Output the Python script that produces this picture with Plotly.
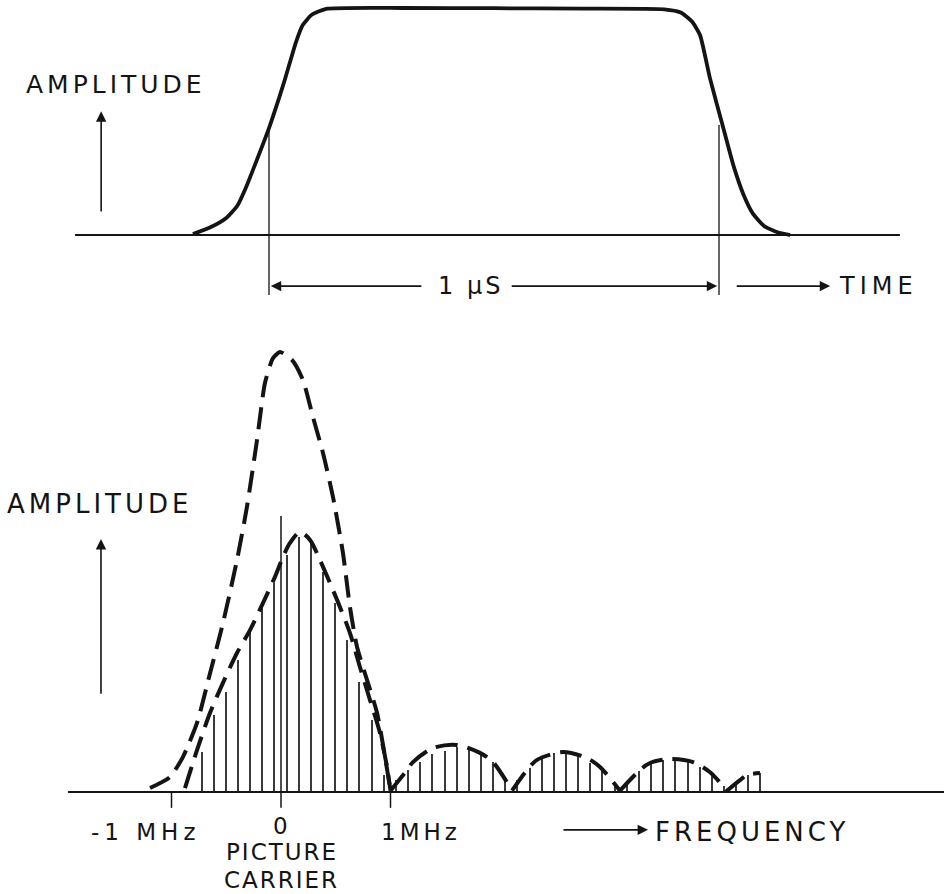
import json
import plotly.graph_objects as go

# ---------------- data: time-domain pulse (upper diagram) ----------------
pulse_t = [-0.169, -0.129, -0.095, -0.070, -0.050, -0.033, 0.000, 0.033, 0.060, 0.075,
           0.095, 0.127, 0.300, 0.500, 0.700, 0.878, 0.915, 0.940, 0.958, 0.980,
           1.009, 1.033, 1.055, 1.075, 1.100, 1.130, 1.158]
pulse_a = [0.004, 0.035, 0.075, 0.130, 0.215, 0.300, 0.471, 0.670, 0.850, 0.925,
           0.970, 0.996, 1.000, 0.999, 0.997, 0.994, 0.980, 0.940, 0.880, 0.690,
           0.476, 0.300, 0.175, 0.095, 0.040, 0.012, 0.000]
width_mark_t = [0.0, 1.0]          # half-amplitude points, 1 µs apart
width_mark_a = [0.471, 0.485]
time_axis = [-0.431, 1.402]

# ---------------- data: spectrum (lower diagram) ----------------
outer_env_f = [-1.196, -1.014, -0.895, -0.767, -0.648, -0.530, -0.402, -0.311, -0.219,
               -0.146, -0.073, -0.009, 0.100, 0.201, 0.292, 0.384, 0.475, 0.566, 0.630,
               0.694, 0.785, 0.877, 0.950, 0.995]
outer_env_a = [0.009, 0.034, 0.080, 0.157, 0.270, 0.384, 0.527, 0.648, 0.800,
               0.930, 0.986, 1.000, 0.982, 0.936, 0.852, 0.770, 0.670, 0.543, 0.420,
               0.330, 0.255, 0.180, 0.080, 0.011]

main_lobe_f = [-0.877, -0.767, -0.648, -0.530, -0.402, -0.283, -0.164, -0.055, 0.018,
               0.082, 0.174, 0.265, 0.356, 0.447, 0.539, 0.630, 0.721, 0.813, 0.904,
               0.968, 1.000]
main_lobe_a = [0.009, 0.095, 0.180, 0.248, 0.316, 0.368, 0.430, 0.489, 0.534,
               0.566, 0.591, 0.573, 0.527, 0.475, 0.420, 0.361, 0.284, 0.209, 0.134,
               0.057, 0.003]
lobe1_f = [1.000, 1.151, 1.205, 1.388, 1.607, 1.817, 1.936, 2.110]
lobe1_a = [0.003, 0.050, 0.068, 0.100, 0.107, 0.089, 0.068, 0.003]
lobe2_f = [2.110, 2.247, 2.338, 2.575, 2.795, 2.913, 3.096]
lobe2_a = [0.003, 0.050, 0.073, 0.091, 0.077, 0.057, 0.003]
lobe3_f = [3.096, 3.279, 3.370, 3.553, 3.763, 3.918, 4.073]
lobe3_a = [0.003, 0.050, 0.066, 0.075, 0.068, 0.045, 0.003]
lobe4_f = [4.073, 4.192, 4.256, 4.374]
lobe4_a = [0.003, 0.027, 0.039, 0.043]

line_f = [-0.724, -0.614, -0.502, -0.392, -0.280, -0.170, -0.058, 0.052, 0.163, 0.274,
          0.385, 0.496, 0.607, 0.718, 0.829, 0.940, 1.051, 1.162, 1.273, 1.384,
          1.495, 1.605, 1.717, 1.827, 1.938, 2.049, 2.160, 2.271, 2.382, 2.493,
          2.605, 2.715, 2.826, 2.937, 3.048, 3.159, 3.270, 3.381, 3.492, 3.603,
          3.714, 3.825, 3.936, 4.047, 4.158, 4.269, 4.380]
line_a = [0.092, 0.175, 0.228, 0.300, 0.368, 0.418, 0.475, 0.539, 0.580, 0.566,
          0.501, 0.430, 0.345, 0.251, 0.164, 0.039, 0.027, 0.050, 0.069, 0.086,
          0.094, 0.103, 0.098, 0.084, 0.068, 0.027, 0.027, 0.055, 0.077, 0.089,
          0.091, 0.086, 0.066, 0.050, 0.016, 0.023, 0.048, 0.066, 0.073, 0.073,
          0.068, 0.057, 0.043, 0.014, 0.023, 0.039, 0.043]

carrier_f = 0.0
carrier_top = 0.627
freq_ticks = [-1.0, 0.0, 1.0]
tick_depth = -0.036
freq_axis = [-1.945, 6.06]

INK = "#141414"
FONT = "DejaVu Sans, sans-serif"

fig = go.Figure()

# ---- upper diagram ----
fig.add_trace(go.Scatter(x=time_axis, y=[0, 0], mode="lines",
                         line=dict(color=INK, width=1.8), xaxis="x", yaxis="y",
                         hoverinfo="skip"))
fig.add_trace(go.Scatter(x=pulse_t, y=pulse_a, mode="lines",
                         line=dict(color=INK, width=3.8, shape="spline", smoothing=0.5),
                         xaxis="x", yaxis="y"))
for t, a in zip(width_mark_t, width_mark_a):
    fig.add_trace(go.Scatter(x=[t, t], y=[-0.264, a], mode="lines",
                             line=dict(color=INK, width=1.3), xaxis="x", yaxis="y",
                             hoverinfo="skip"))

# ---- lower diagram ----
fig.add_trace(go.Bar(x=line_f, y=line_a, width=0.012,
                     marker=dict(color="#3a3a3a", line=dict(width=0)),
                     xaxis="x2", yaxis="y2"))
fig.add_trace(go.Scatter(x=freq_axis, y=[0, 0], mode="lines",
                         line=dict(color=INK, width=1.8), xaxis="x2", yaxis="y2",
                         hoverinfo="skip"))
for f in freq_ticks:
    top = carrier_top if f == carrier_f else 0
    fig.add_trace(go.Scatter(x=[f, f], y=[tick_depth, top], mode="lines",
                             line=dict(color=INK, width=1.5), xaxis="x2", yaxis="y2",
                             hoverinfo="skip"))
dash = "22px,10px"
fig.add_trace(go.Scatter(x=outer_env_f, y=outer_env_a, mode="lines",
                         line=dict(color=INK, width=4, dash=dash, shape="spline",
                                   smoothing=0.6),
                         xaxis="x2", yaxis="y2"))
for fs, as_ in [(main_lobe_f, main_lobe_a), (lobe1_f, lobe1_a), (lobe2_f, lobe2_a),
                (lobe3_f, lobe3_a), (lobe4_f, lobe4_a)]:
    fig.add_trace(go.Scatter(x=fs, y=as_, mode="lines",
                             line=dict(color=INK, width=4, dash=dash, shape="spline",
                                       smoothing=0.8),
                             xaxis="x2", yaxis="y2"))

# ---- annotations ----
annotations = []
spacing = {}


def label(text, x, y, xref, yref, size, ls=0):
    spacing[len(annotations)] = ls
    annotations.append(dict(text=text, x=x, y=y, xref=xref, yref=yref,
                            showarrow=False, xanchor="center", yanchor="middle",
                            font=dict(family=FONT, size=size, color=INK)))


def arrow(x, y, ax, ay, xref, yref):
    spacing[len(annotations)] = 0
    annotations.append(dict(text="", x=x, y=y, ax=ax, ay=ay, xref=xref, yref=yref,
                            axref=xref, ayref=yref, showarrow=True, arrowhead=2,
                            arrowsize=1.3, arrowwidth=1.6, arrowcolor=INK,
                            standoff=0, startstandoff=0))


# upper
label("AMPLITUDE", -0.340, 0.665, "x", "y", 25, 4)
arrow(-0.373, 0.545, -0.373, 0.097, "x", "y")
arrow(0.004, -0.225, 0.342, -0.225, "x", "y")
arrow(0.996, -0.225, 0.536, -0.225, "x", "y")
label("1 μS", 0.447, -0.225, "x", "y", 24, 3)
arrow(1.247, -0.225, 1.036, -0.225, "x", "y")
label("TIME", 1.355, -0.225, "x", "y", 24, 5)

# lower
label("AMPLITUDE", -1.655, 0.655, "x2", "y2", 26, 4)
arrow(-1.644, 0.575, -1.644, 0.220, "x2", "y2")
label("-1 MHz", -1.235, -0.091, "x2", "y2", 23, 5)
label("0", -0.009, -0.077, "x2", "y2", 23, 0)
label("PICTURE", 0.009, -0.137, "x2", "y2", 23, 2)
label("CARRIER", 0.009, -0.199, "x2", "y2", 23, 2)
label("1MHz", 1.280, -0.091, "x2", "y2", 23, 4)
arrow(3.352, -0.086, 2.566, -0.086, "x2", "y2")
label("FREQUENCY", 4.305, -0.091, "x2", "y2", 26, 4)

fig.update_layout(
    width=944, height=894, autosize=False,
    margin=dict(l=0, r=0, t=0, b=0),
    paper_bgcolor="white", plot_bgcolor="white",
    showlegend=False, bargap=0,
    annotations=annotations,
    xaxis=dict(domain=[0, 1], range=[-269 / 450, 675 / 450], visible=False),
    yaxis=dict(domain=[1 - 300 / 894, 1], range=[-0.2863, 1.0352], visible=False),
    xaxis2=dict(domain=[0, 1], range=[-2.5662, 6.0548], visible=False, anchor="y2"),
    yaxis2=dict(domain=[0, (894 - 330) / 894], range=[-0.2318, 1.05], visible=False,
                anchor="x2"),
)

post = """
var sp = %s;
document.querySelectorAll('g.annotation').forEach(function(g){
  var i = g.getAttribute('data-index');
  var v = sp[i];
  if (v) { g.querySelectorAll('text').forEach(function(t){ t.style.letterSpacing = v + 'px'; }); }
});
""" % json.dumps({str(k): v for k, v in spacing.items()})

fig.write_html("out.html", post_script=post)
